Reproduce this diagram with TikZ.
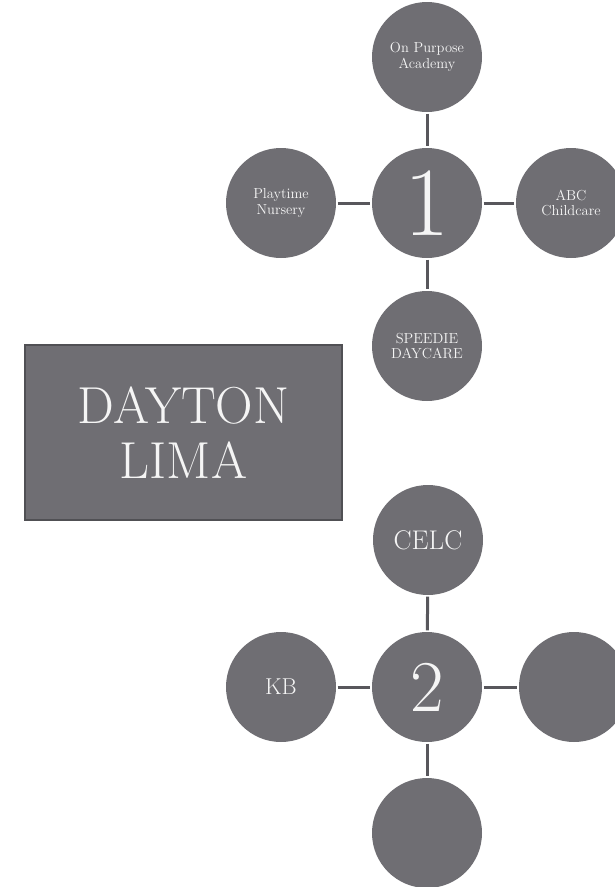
\documentclass[tikz,border=0pt]{standalone}
\usepackage{fontspec}
\definecolor{disc}{RGB}{111,110,115}
\definecolor{link}{RGB}{88,87,92}
\definecolor{frame}{RGB}{80,80,84}
\definecolor{ink}{RGB}{245,245,245}
\begin{document}
\begin{tikzpicture}[x=1pt,y=-1pt,
  bubble/.style={circle,fill=disc,minimum size=110pt,inner sep=0pt,text=ink,align=center,
    font=\fontsize{14.5}{15.5}\selectfont},
  hub/.style={bubble},
  link/.style={draw=link,line width=3pt,shorten <=1.5pt,shorten >=1.5pt},
  titlebox/.style={rectangle,fill=disc,draw=frame,line width=2pt,minimum width=317pt,
    minimum height=175pt,text=ink,align=center,font=\fontsize{52}{55}\selectfont}]
\useasboundingbox (0,0) rectangle (615,887);
% cluster 1
\node[hub,font=\fontsize{98}{98}\selectfont] (h1) at (427,203) {1};
\node[bubble] (t1) at (427,57) {On Purpose\\Academy};
\node[bubble] (b1) at (427,346) {SPEEDIE\\DAYCARE};
\node[bubble] (l1) at (281,203) {Playtime\\Nursery};
\node[bubble] (r1) at (571,203) {ABC\\Childcare};
\draw[link] (t1) -- (h1);
\draw[link] (h1) -- (b1);
\draw[link] (l1) -- (h1);
\draw[link] (h1) -- (r1);
% title
\node[titlebox] (title) at (183.5,432.5) {DAYTON\\LIMA};
% cluster 2
\node[hub,font=\fontsize{73}{73}\selectfont] (h2) at (427,687) {2};
\node[bubble,font=\fontsize{27}{30}\selectfont] (t2) at (428,540) {CELC};
\node[bubble,font=\fontsize{23}{26}\selectfont] (l2) at (281,687) {KB};
\node[bubble] (r2) at (574,687) {};
\node[bubble] (b2) at (427,833) {};
\draw[link] (t2) -- (h2);
\draw[link] (h2) -- (b2);
\draw[link] (l2) -- (h2);
\draw[link] (h2) -- (r2);
\end{tikzpicture}
\end{document}
